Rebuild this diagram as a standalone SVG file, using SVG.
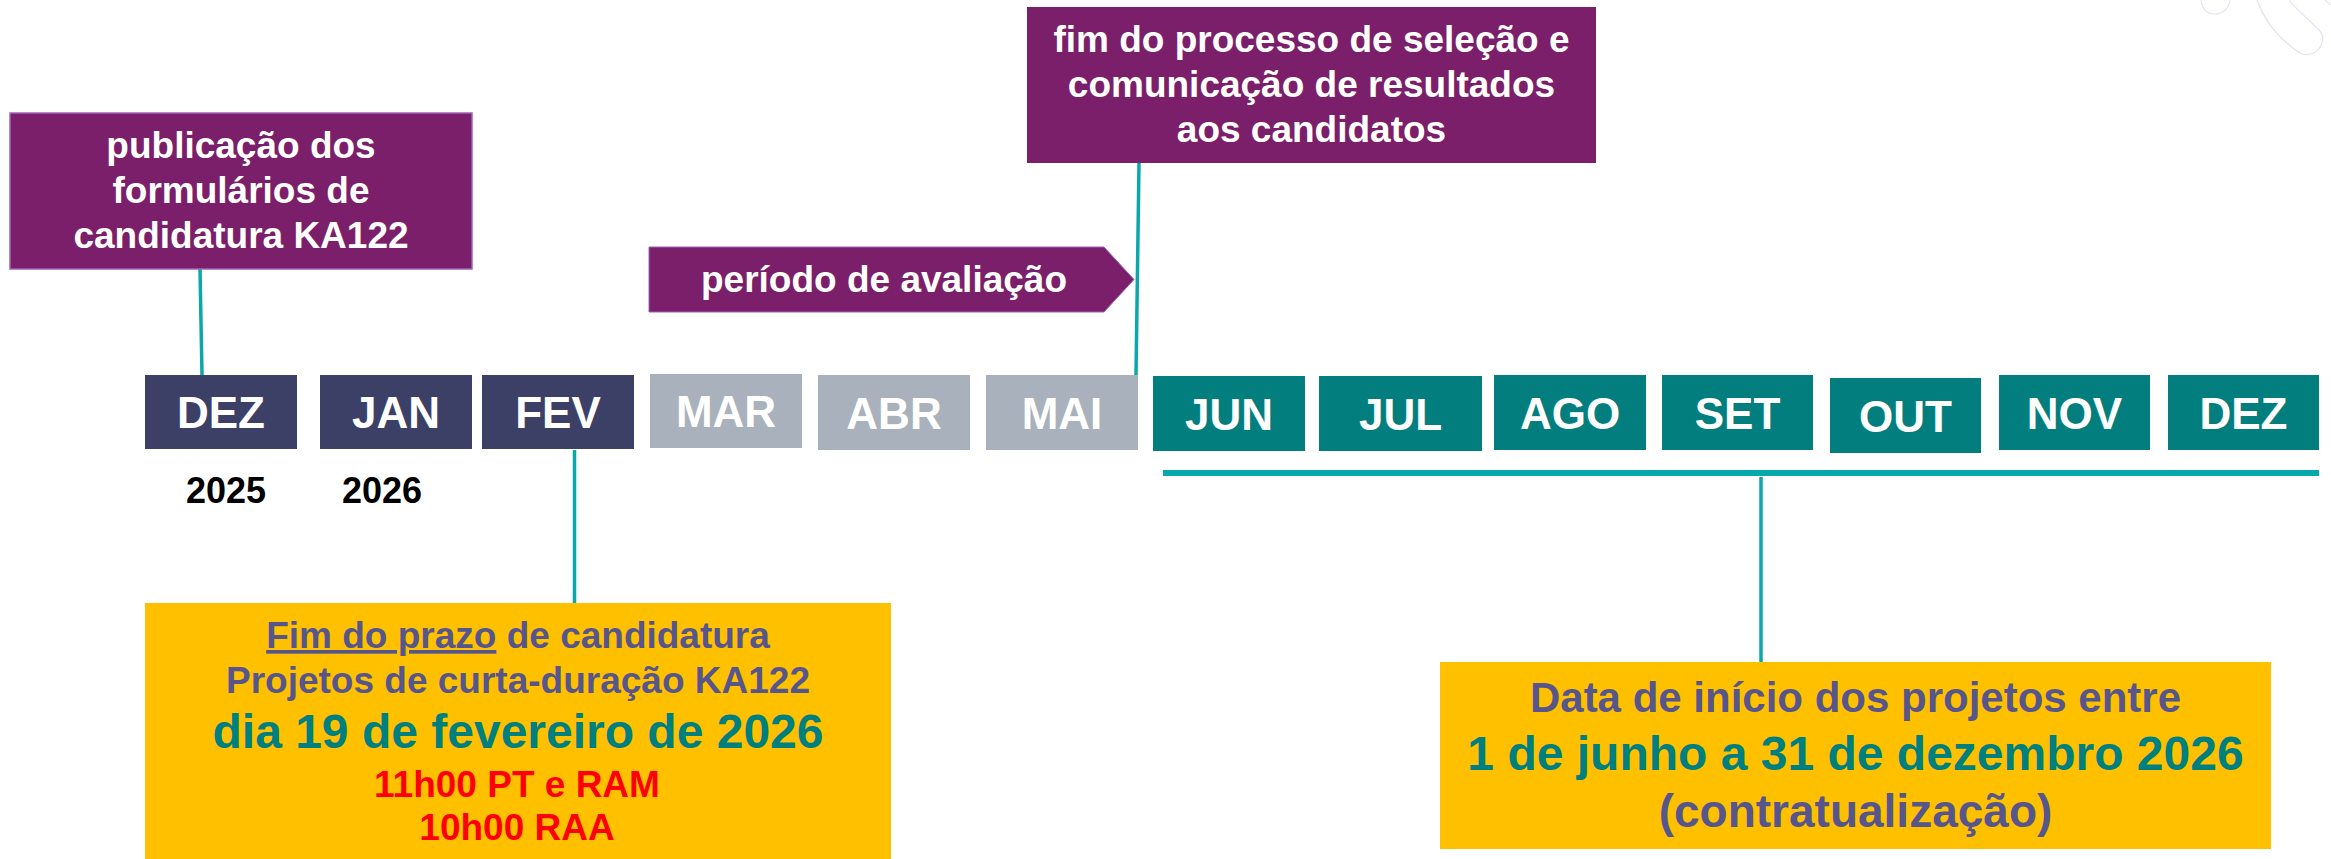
<svg xmlns="http://www.w3.org/2000/svg" width="2331" height="859" viewBox="0 0 2331 859">
<style>
  text { font-family: "Liberation Sans", Arial, sans-serif; font-weight: bold; text-anchor: middle; }
  .purple { fill: #7B1F6A; }
  .navy { fill: #3C3F66; }
  .gray { fill: #A9B1BC; }
  .teal { fill: #037E7E; }
  .yellow { fill: #FFC000; }
  .mtxt { fill: #FFFFFF; font-size: 44px; }
  .ptxt { fill: #FFFFFF; font-size: 37px; }
  .year { fill: #000000; font-size: 36px; }
  .slate { fill: #57568C; }
  .tealtxt { fill: #007F7F; }
  .red { fill: #FF0000; }
  .conn { stroke: #0AA8AA; stroke-width: 3.5; fill: none; }
  .deco { stroke: #E4E4EE; stroke-width: 1.2; fill: none; }
</style>

<g id="decoration">
  <path class="deco" d="M2201,0 C2202,9 2207,14 2215,14 C2223,14 2229,8 2230,0"/>
  <path class="deco" d="M2257,0 C2265,22 2280,40 2300,53 C2308,57 2319,53 2322,43 C2324,37 2322,33 2319,30 C2306,17 2295,8 2289,0"/>
  <path class="deco" d="M2325,0 L2331,5"/>
</g>

<g id="connectors">
  <line class="conn" x1="200" y1="269" x2="202" y2="375"/>
  <line class="conn" x1="574.5" y1="450" x2="574.5" y2="603"/>
  <line class="conn" x1="1139" y1="163" x2="1136" y2="375"/>
  <line class="conn" x1="1761" y1="477" x2="1761" y2="662"/>
  <line x1="1163" y1="473" x2="2319" y2="473" stroke="#06A9AB" stroke-width="6"/>
</g>

<g id="box-publicacao">
  <rect class="purple" x="10" y="113" width="462" height="156" stroke="#9C64B8" stroke-width="1.5"/>
  <text class="ptxt" x="241" y="158">publicação dos</text>
  <text class="ptxt" x="241" y="203">formulários de</text>
  <text class="ptxt" x="241" y="248">candidatura KA122</text>
</g>

<g id="box-fim-processo">
  <rect class="purple" x="1027" y="7" width="569" height="156"/>
  <text class="ptxt" x="1311.5" y="52">fim do processo de seleção e</text>
  <text class="ptxt" x="1311.5" y="97">comunicação de resultados</text>
  <text class="ptxt" x="1311.5" y="142">aos candidatos</text>
</g>

<g id="arrow-avaliacao">
  <polygon class="purple" points="649,247 1104,247 1134,279.5 1104,312 649,312" stroke="#9C64B8" stroke-width="1"/>
  <text class="ptxt" x="884" y="292">período de avaliação</text>
</g>

<g id="month-dez-2025">
  <rect class="navy" x="145" y="375" width="152" height="74"/>
  <text class="mtxt" x="221" y="428">DEZ</text>
</g>
<g id="month-jan">
  <rect class="navy" x="320" y="375" width="152" height="74"/>
  <text class="mtxt" x="396" y="428">JAN</text>
</g>
<g id="month-fev">
  <rect class="navy" x="482" y="375" width="152" height="74"/>
  <text class="mtxt" x="558" y="428">FEV</text>
</g>
<g id="month-mar">
  <rect class="gray" x="650" y="374" width="152" height="74"/>
  <text class="mtxt" x="726" y="427">MAR</text>
</g>
<g id="month-abr">
  <rect class="gray" x="818" y="375" width="152" height="75"/>
  <text class="mtxt" x="894" y="429">ABR</text>
</g>
<g id="month-mai">
  <rect class="gray" x="986" y="375" width="152" height="75"/>
  <text class="mtxt" x="1062" y="429">MAI</text>
</g>
<g id="month-jun">
  <rect class="teal" x="1153" y="376" width="152" height="75"/>
  <text class="mtxt" x="1229" y="430">JUN</text>
</g>
<g id="month-jul">
  <rect class="teal" x="1319" y="376" width="163" height="75"/>
  <text class="mtxt" x="1400.5" y="430">JUL</text>
</g>
<g id="month-ago">
  <rect class="teal" x="1494" y="375" width="152" height="75"/>
  <text class="mtxt" x="1570" y="429">AGO</text>
</g>
<g id="month-set">
  <rect class="teal" x="1662" y="375" width="151" height="75"/>
  <text class="mtxt" x="1737.5" y="429">SET</text>
</g>
<g id="month-out">
  <rect class="teal" x="1830" y="378" width="151" height="75"/>
  <text class="mtxt" x="1905.5" y="432">OUT</text>
</g>
<g id="month-nov">
  <rect class="teal" x="1999" y="375" width="151" height="75"/>
  <text class="mtxt" x="2074.5" y="429">NOV</text>
</g>
<g id="month-dez-2026">
  <rect class="teal" x="2168" y="375" width="151" height="75"/>
  <text class="mtxt" x="2243.5" y="429">DEZ</text>
</g>

<g id="years">
  <text class="year" x="226" y="503">2025</text>
  <text class="year" x="382" y="503">2026</text>
</g>

<g id="box-prazo">
  <rect class="yellow" x="145" y="603" width="746" height="256"/>
  <text class="slate" x="518" y="648" font-size="37"><tspan text-decoration="underline">Fim do prazo</tspan> de candidatura</text>
  <text class="slate" x="518" y="693" font-size="37">Projetos de curta-duração KA122</text>
  <text class="tealtxt" x="518" y="748" font-size="48">dia 19 de fevereiro de 2026</text>
  <text class="red" x="517" y="797" font-size="37">11h00 PT e RAM</text>
  <text class="red" x="517" y="840" font-size="37">10h00 RAA</text>
</g>

<g id="box-inicio">
  <rect class="yellow" x="1440" y="662" width="831" height="187"/>
  <text class="slate" x="1855.5" y="712" font-size="42">Data de início dos projetos entre</text>
  <text class="tealtxt" x="1855.5" y="770" font-size="48">1 de junho a 31 de dezembro 2026</text>
  <text class="slate" x="1855.5" y="827" font-size="46">(contratualização)</text>
</g>
</svg>
